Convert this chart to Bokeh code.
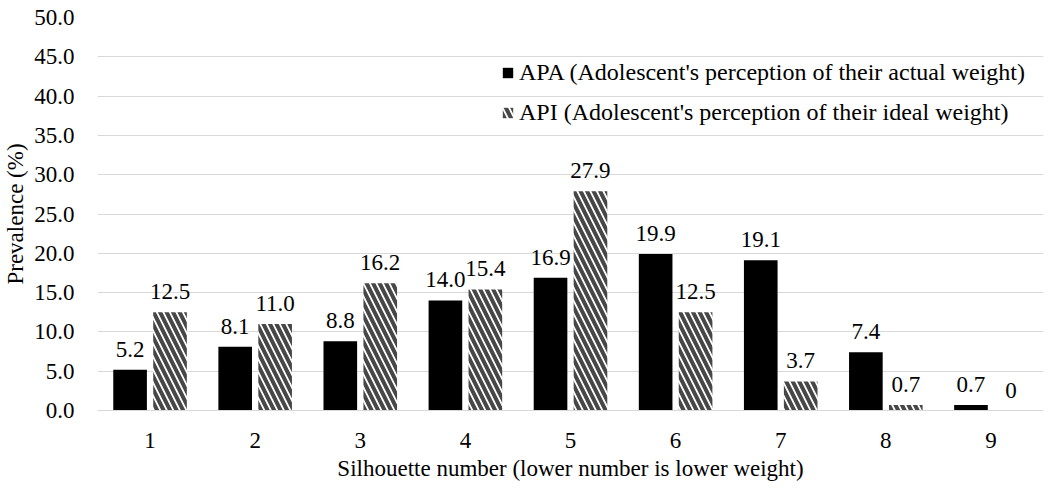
from bokeh.plotting import figure
from bokeh.models import ColumnDataSource, LabelSet, Legend, LegendItem, SingleIntervalTicker, CustomJSTickFormatter
from bokeh.core.properties import value
from bokeh.transform import dodge
from bokeh.embed import file_html
from bokeh.resources import INLINE

categories = ["1", "2", "3", "4", "5", "6", "7", "8", "9"]
apa = [5.2, 8.1, 8.8, 14.0, 16.9, 19.9, 19.1, 7.4, 0.7]
api = [12.5, 11.0, 16.2, 15.4, 27.9, 12.5, 3.7, 0.7, 0.0]
apa_labels = ["5.2", "8.1", "8.8", "14.0", "16.9", "19.9", "19.1", "7.4", "0.7"]
api_labels = ["12.5", "11.0", "16.2", "15.4", "27.9", "12.5", "3.7", "0.7", "0"]
apa_name = "APA (Adolescent's perception of their actual weight)"
api_name = "API (Adolescent's perception of their ideal weight)"

FONT = "Liberation Serif"
FS = "23px"

src = ColumnDataSource(dict(cat=categories, apa=apa, api=api,
                            apa_lab=apa_labels, api_lab=api_labels))

p = figure(x_range=categories, y_range=(0, 50), width=1050, height=492,
           output_backend="svg", toolbar_location=None,
           min_border_left=96, min_border_right=7, min_border_top=17, min_border_bottom=82)
p.outline_line_color = None
p.background_fill_color = "white"
p.border_fill_color = "white"

r1 = p.vbar(x=dodge("cat", -0.19, range=p.x_range), top="apa", width=0.32,
            source=src, fill_color="black", line_color=None)
r2 = p.vbar(x=dodge("cat", 0.19, range=p.x_range), top="api", width=0.32,
            source=src, fill_color="white", line_color=None,
            hatch_pattern="left_diagonal_line", hatch_color="#474747",
            hatch_weight=4, hatch_scale=13)

for col, off, top in (("apa_lab", -0.19, "apa"), ("api_lab", 0.19, "api")):
    p.add_layout(LabelSet(x=dodge("cat", off, range=p.x_range), y=top, text=col,
                          source=src, text_align="center", text_baseline="alphabetic",
                          y_offset=13, text_font=value(FONT), text_font_size=FS,
                          text_color="black"))

p.yaxis.ticker = SingleIntervalTicker(interval=5)
p.yaxis.formatter = CustomJSTickFormatter(code="return tick.toFixed(1);")
p.yaxis.axis_line_color = None
p.yaxis.major_tick_line_color = None
p.yaxis.minor_tick_line_color = None
p.yaxis.major_tick_out = 0
p.yaxis.major_tick_in = 0
p.yaxis.minor_tick_out = 0
p.yaxis.major_label_standoff = 23
p.yaxis.axis_label = "Prevalence (%)"
p.yaxis.axis_label_standoff = 3

p.xaxis.axis_line_color = "#d9d9d9"
p.xaxis.axis_line_width = 1
p.xaxis.major_tick_line_color = None
p.xaxis.minor_tick_line_color = None
p.xaxis.major_tick_out = 0
p.xaxis.major_tick_in = 0
p.xaxis.minor_tick_out = 0
p.xaxis.major_label_standoff = 22
p.xaxis.axis_label = "Silhouette number (lower number is lower weight)"
p.xaxis.axis_label_standoff = 5

for ax in (p.xaxis, p.yaxis):
    ax.major_label_text_font = FONT
    ax.major_label_text_font_size = FS
    ax.major_label_text_color = "black"
    ax.axis_label_text_font = FONT
    ax.axis_label_text_font_size = FS
    ax.axis_label_text_font_style = "normal"
    ax.axis_label_text_color = "black"

p.xgrid.grid_line_color = None
p.ygrid.grid_line_color = "#d9d9d9"
p.ygrid.grid_line_width = 1

legend = Legend(items=[LegendItem(label=apa_name, renderers=[r1]),
                       LegendItem(label=api_name, renderers=[r2])],
                location=(404, 284), orientation="vertical",
                background_fill_alpha=0, border_line_color=None,
                padding=0, margin=0, spacing=13,
                glyph_width=13, glyph_height=13, label_height=22,
                label_standoff=5,
                label_text_font=FONT, label_text_font_size="24px",
                label_text_color="black")
p.add_layout(legend)

open("out.html", "w").write(file_html(p, INLINE))
